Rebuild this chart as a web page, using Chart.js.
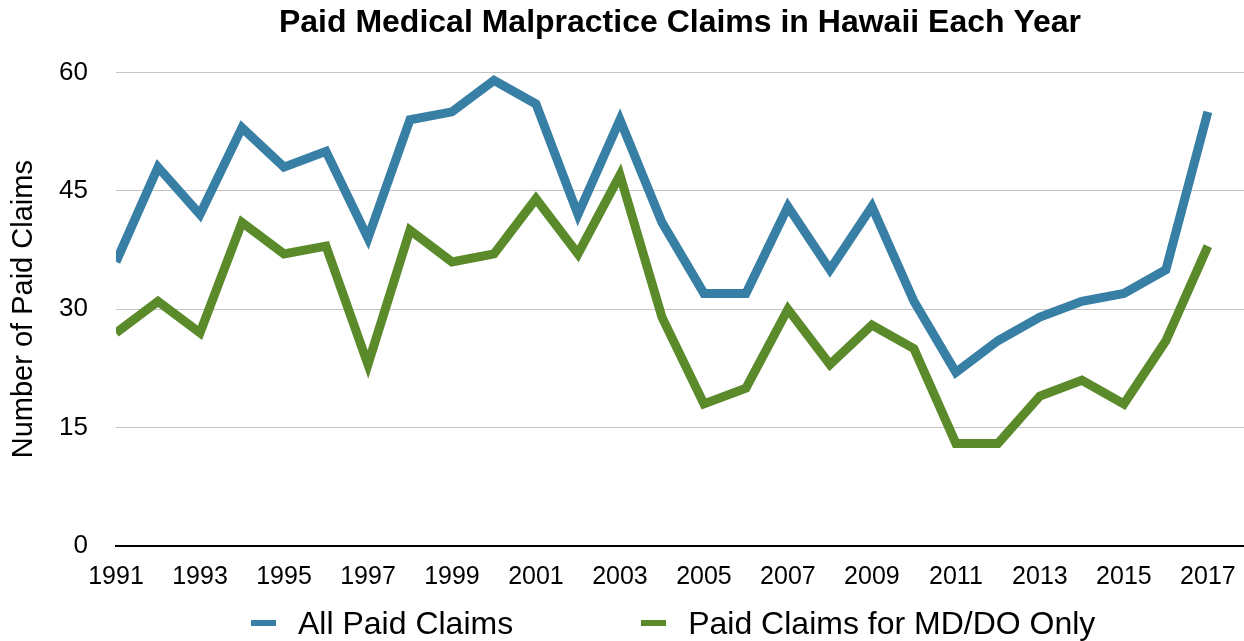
<!DOCTYPE html>
<html>
<head>
<meta charset="utf-8">
<title>Paid Medical Malpractice Claims in Hawaii Each Year</title>
<script src="https://cdn.jsdelivr.net/npm/chart.js@4.4.1/dist/chart.umd.min.js"></script>
<style>
    html, body { margin: 0; padding: 0; background: #ffffff; }
    #wrap { position: relative; width: 1244px; height: 641px; }
    #legend {
        position: absolute; left: 251px; top: 604px; height: 38px;
        display: flex; align-items: center;
        font-family: "Liberation Sans", Arial, Helvetica, sans-serif;
        font-size: 32px; color: #000;
    }
    .item { display: flex; align-items: center; margin-right: 128px; white-space: nowrap; }
    .swatch { width: 25px; height: 6px; margin-right: 22px; }
</style>
</head>
<body>
<div id="wrap">
    <canvas id="claimsChart" width="1244" height="641"></canvas>
    <div id="legend"></div>
</div>
<script>
const years = [1991, 1992, 1993, 1994, 1995, 1996, 1997, 1998, 1999, 2000,
               2001, 2002, 2003, 2004, 2005, 2006, 2007, 2008, 2009, 2010,
               2011, 2012, 2013, 2014, 2015, 2016, 2017];
const allClaims = [36, 48, 42, 53, 48, 50, 39, 54, 55, 59,
                   56, 42, 54, 41, 32, 32, 43, 35, 43, 31,
                   22, 26, 29, 31, 32, 35, 55];
const mdDoClaims = [27, 31, 27, 41, 37, 38, 23, 40, 36, 37,
                    44, 37, 47, 29, 18, 20, 30, 23, 28, 25,
                    13, 13, 19, 21, 18, 26, 38];
const yearTicks = [1991, 1993, 1995, 1997, 1999, 2001, 2003, 2005, 2007, 2009, 2011, 2013, 2015, 2017];
const claimTicks = [0, 15, 30, 45, 60];

Chart.defaults.font.family = '"Liberation Sans", Arial, Helvetica, sans-serif';
Chart.defaults.color = '#000000';

const toPoints = (values) => years.map((yr, i) => ({x: yr, y: values[i]}));

const ctx = document.getElementById('claimsChart').getContext('2d');

const claimsChart = new Chart(ctx, {
    type: 'line',
    data: {
        datasets: [{
            label: 'All Paid Claims',
            data: toPoints(allClaims),
            borderColor: '#387fa5',
            backgroundColor: '#387fa5',
            borderWidth: 9,
            borderJoinStyle: 'miter',
            pointRadius: 0,
            tension: 0
        }, {
            label: 'Paid Claims for MD/DO Only',
            data: toPoints(mdDoClaims),
            borderColor: '#5a8a2a',
            backgroundColor: '#5a8a2a',
            borderWidth: 9,
            borderJoinStyle: 'miter',
            pointRadius: 0,
            tension: 0
        }]
    },
    options: {
        responsive: false,
        animation: false,
        layout: {
            padding: {bottom: 45}
        },
        plugins: {
            title: {
                display: true,
                text: 'Paid Medical Malpractice Claims in Hawaii Each Year',
                fullSize: false,
                color: '#000000',
                font: {size: 32, weight: 'bold'},
                padding: {top: 4, bottom: 30}
            },
            legend: {
                display: false
            },
            tooltip: {
                enabled: false
            }
        },
        scales: {
            x: {
                type: 'linear',
                min: 1991,
                max: 2017.86,
                grid: {
                    display: false
                },
                border: {
                    display: true,
                    color: '#000000',
                    width: 2
                },
                afterBuildTicks: (axis) => {
                    axis.ticks = yearTicks.map(v => ({value: v}));
                },
                afterFit: (axis) => {
                    axis.height = 50;
                },
                ticks: {
                    color: '#000000',
                    font: {size: 25},
                    padding: 8,
                    maxRotation: 0,
                    autoSkip: false,
                    callback: (value) => String(value)
                }
            },
            y: {
                min: 0,
                max: 60,
                afterBuildTicks: (axis) => {
                    axis.ticks = claimTicks.map(v => ({value: v}));
                },
                afterFit: (axis) => {
                    axis.width = 116;
                },
                grid: {
                    color: '#c4c4c4',
                    lineWidth: 1,
                    drawTicks: false
                },
                border: {
                    display: false
                },
                ticks: {
                    color: '#000000',
                    font: {size: 26},
                    padding: 28
                },
                title: {
                    display: true,
                    text: 'Number of Paid Claims',
                    color: '#000000',
                    font: {size: 29},
                    padding: {top: 7, bottom: 18}
                }
            }
        }
    }
});

// html legend below the plot
const legendEl = document.getElementById('legend');
claimsChart.data.datasets.forEach(ds => {
    const item = document.createElement('div');
    item.className = 'item';
    const swatch = document.createElement('span');
    swatch.className = 'swatch';
    swatch.style.background = ds.borderColor;
    const label = document.createElement('span');
    label.textContent = ds.label;
    item.appendChild(swatch);
    item.appendChild(label);
    legendEl.appendChild(item);
});
</script>
</body>
</html>
